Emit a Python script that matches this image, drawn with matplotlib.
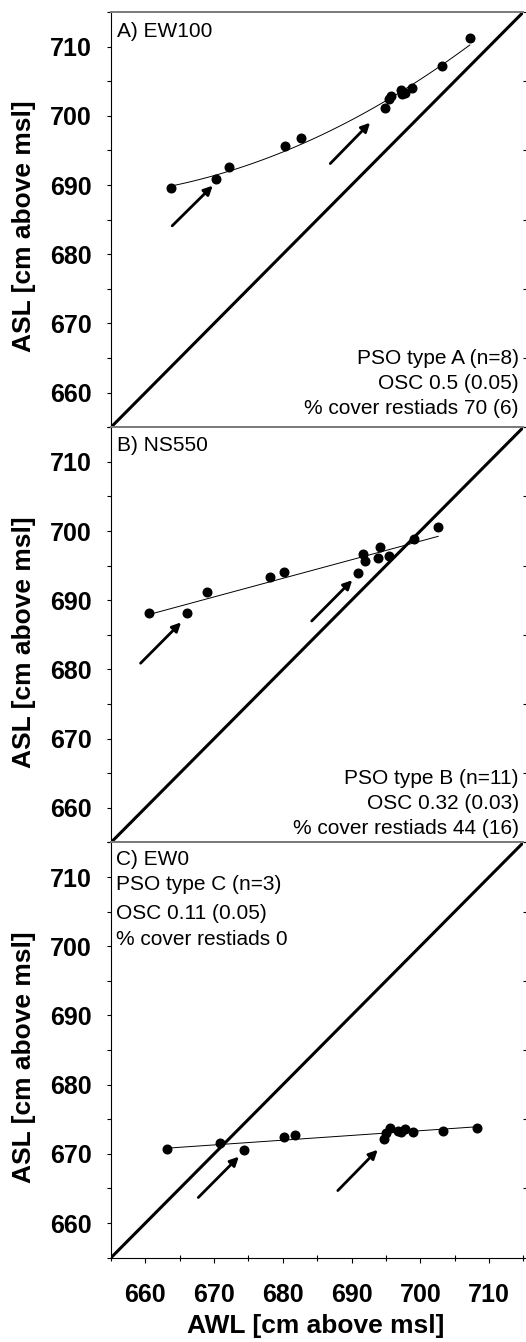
import numpy as np
import matplotlib
matplotlib.use("Agg")
import matplotlib.pyplot as plt
from matplotlib.ticker import MultipleLocator

plt.rcParams['font.family'] = ['Liberation Sans', 'DejaVu Sans']

# panel A) EW100
awl_a = [663.7, 670.3, 672.2, 680.3, 682.7, 694.9, 695.5, 695.7, 697.2, 697.4, 697.8, 698.8, 703.1, 707.2]
asl_a = [689.5, 690.8, 692.6, 695.6, 696.8, 701.1, 702.4, 702.9, 703.7, 703.1, 703.3, 704.0, 707.2, 711.3]
# panel B) NS550
awl_b = [660.5, 666.1, 669.0, 678.1, 680.1, 691.0, 691.7, 692.0, 693.8, 694.1, 695.4, 699.1, 702.6]
asl_b = [688.1, 688.2, 691.2, 693.4, 694.1, 694.0, 696.7, 695.6, 696.1, 697.7, 696.4, 698.8, 700.6]
# panel C) EW0
awl_c = [663.2, 670.9, 674.4, 680.2, 681.7, 694.7, 695.0, 695.6, 696.7, 697.2, 697.8, 698.9, 703.3, 708.2]
asl_c = [670.7, 671.6, 670.6, 672.4, 672.8, 672.2, 673.0, 673.7, 673.3, 673.1, 673.6, 673.2, 673.3, 673.7]

# arrows: (x tail, y tail, x head, y head)
arrows_a = [(663.9, 684.1, 669.8, 689.9), (686.9, 693.1, 692.7, 699.0)]
arrows_b = [(659.3, 680.9, 665.2, 686.8), (684.2, 687.0, 690.1, 692.9)]
arrows_c = [(667.7, 663.7, 673.6, 669.6), (688.0, 664.7, 693.8, 670.6)]

titles = ['A) EW100', 'B) NS550', 'C) EW0']
notes = [['PSO type A (n=8)', 'OSC 0.5 (0.05)', '% cover restiads 70 (6)'],
         ['PSO type B (n=11)', 'OSC 0.32 (0.03)', '% cover restiads 44 (16)'],
         ['PSO type C (n=3)', 'OSC 0.11 (0.05)', '% cover restiads 0']]
fit_order = [2, 1, 1]
ticks = [660, 670, 680, 690, 700, 710]

xs = [awl_a, awl_b, awl_c]
ys = [asl_a, asl_b, asl_c]
arrs = [arrows_a, arrows_b, arrows_c]

fig = plt.figure(figsize=(5.26, 13.42), dpi=100)
axw_px = 523.4 - 111
left = 111 / 526
width = axw_px / 526
h = (1257.7 - 12) / 1342 / 3
bottom0 = 1 - 1257.7 / 1342
gray = '#7a7a7a'

for i in range(3):
    ax = fig.add_axes([left, bottom0 + (2 - i) * h, width, h])
    x = np.array(xs[i])
    y = np.array(ys[i])
    # 1:1 line
    ax.plot([655, 715], [655, 715], color='k', lw=2.2, solid_capstyle='butt')
    # regression line
    coef = np.polyfit(x, y, fit_order[i])
    xf = np.linspace(x.min(), x.max(), 100)
    ax.plot(xf, np.polyval(coef, xf), color='k', lw=0.7)
    ax.plot(x, y, 'o', color='k', ms=6.2, zorder=3)
    for (x0, y0, x1, y1) in arrs[i]:
        ax.annotate('', xy=(x1, y1), xytext=(x0, y0),
                    arrowprops=dict(arrowstyle='-|>', lw=2.0, color='k',
                                    mutation_scale=13, shrinkA=0, shrinkB=0))
    ax.set_xlim(655, 715)
    ax.set_ylim(655, 715)
    ax.xaxis.set_minor_locator(MultipleLocator(5))
    ax.yaxis.set_minor_locator(MultipleLocator(5))
    ax.set_yticks(ticks)
    ax.set_xticks(ticks)
    ax.tick_params(axis='y', which='both', direction='out', length=3, width=0.8,
                   labelsize=18, pad=11, right=False)
    ax.tick_params(axis='y', which='minor', right=True)
    for lab in ax.get_yticklabels():
        lab.set_fontweight('bold')
    ax.spines['right'].set_visible(False)
    ax.spines['left'].set_linewidth(0.8)
    ax.spines['top'].set_color(gray)
    ax.spines['top'].set_linewidth(1.4)
    if i < 2:
        ax.spines['bottom'].set_color(gray)
        ax.spines['bottom'].set_linewidth(1.4)
        ax.tick_params(axis='x', which='both', bottom=False, labelbottom=False)
    else:
        ax.spines['bottom'].set_linewidth(0.8)
        ax.tick_params(axis='x', which='major', direction='out', length=3.5, width=0.8,
                       labelsize=18, pad=15)
        ax.tick_params(axis='x', which='minor', direction='inout', length=5, width=0.8)
        for lab in ax.get_xticklabels():
            lab.set_fontweight('bold')

    ax.text((24 - 111) / axw_px, 0.483, 'ASL [cm above msl]',
            transform=ax.transAxes, rotation=90, ha='center', va='center',
            fontsize=19, fontweight='bold')

    if i < 2:
        ax.text(0.014, 1 - [0.048, 0.043][i], titles[i], transform=ax.transAxes,
                ha='left', va='center', fontsize=15)
        ybot = [0.046, 0.033][i]
        for k, line in enumerate(notes[i]):
            ax.text((519 - 111) / axw_px, ybot + (2 - k) * 25 / 415, line,
                    transform=ax.transAxes, ha='right', va='center', fontsize=15)
    else:
        lines = [titles[i]] + notes[i]
        ypos = [0.041, 0.101, 0.170, 0.233]
        for k, line in enumerate(lines):
            ax.text(0.012, 1 - ypos[k], line, transform=ax.transAxes,
                    ha='left', va='center', fontsize=15)

fig.text(315.8 / 526, 1 - 1333 / 1342, 'AWL [cm above msl]', ha='center', va='baseline',
         fontsize=19, fontweight='bold')

fig.savefig('out.png', dpi=100)
